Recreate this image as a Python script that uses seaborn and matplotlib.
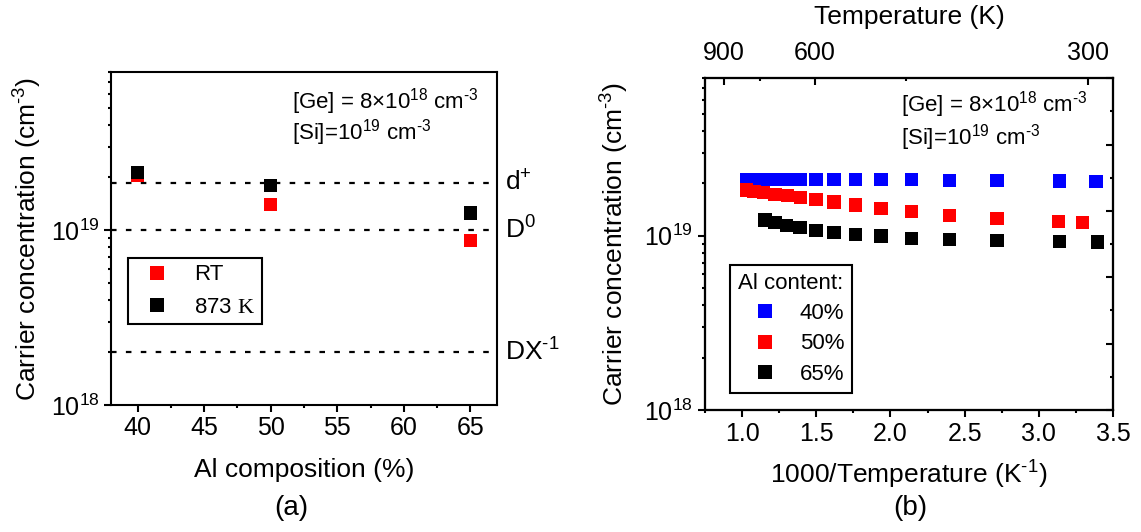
import numpy as np
import pandas as pd
import matplotlib
matplotlib.use("Agg")
import matplotlib.pyplot as plt
import seaborn as sns
from matplotlib.lines import Line2D
from matplotlib.ticker import LogLocator, NullFormatter, FixedLocator, MultipleLocator

# ---------------- data: panel (a) ----------------
al_comp = [40, 50, 65]
n_rt = [2.05e19, 1.40e19, 8.73e18]
n_873 = [2.13e19, 1.79e19, 1.25e19]
level_values = [1.85e19, 1.0e19, 2.0e18]
level_labels = ["d$^{+}$", "D$^{0}$", "DX$^{\u20101}$"]

# ---------------- data: panel (b) ----------------
inv_t_40 = [1.031, 1.080, 1.143, 1.222, 1.305, 1.392, 1.498, 1.619, 1.766,
            1.936, 2.143, 2.396, 2.718, 3.142, 3.385]
n_40 = [2.09e19, 2.09e19, 2.09e19, 2.09e19, 2.09e19, 2.09e19, 2.10e19, 2.10e19,
        2.09e19, 2.09e19, 2.09e19, 2.08e19, 2.07e19, 2.06e19, 2.05e19]
inv_t_50 = [1.031, 1.080, 1.143, 1.222, 1.305, 1.392, 1.498, 1.619, 1.766,
            1.936, 2.143, 2.396, 2.718, 3.130, 3.292]
n_50 = [1.83e19, 1.80e19, 1.77e19, 1.73e19, 1.70e19, 1.65e19, 1.62e19, 1.56e19,
        1.50e19, 1.44e19, 1.37e19, 1.31e19, 1.26e19, 1.20e19, 1.19e19]
inv_t_65 = [1.154, 1.222, 1.300, 1.390, 1.498, 1.619, 1.766, 1.936, 2.143,
            2.396, 2.718, 3.142, 3.393]
n_65 = [1.23e19, 1.19e19, 1.15e19, 1.11e19, 1.07e19, 1.046e19, 1.02e19, 0.996e19,
        0.966e19, 0.953e19, 0.936e19, 0.929e19, 0.92e19]
series_names = ["40%", "50%", "65%"]
series_colors = ["#0000ff", "#ff0000", "#000000"]
top_temps = [900, 600, 300]
top_minor_temps = [750, 450]

HY = "\u2010"  # short hyphen used in superscripts

# ---------------- style ----------------
sns.set_theme(style="ticks", rc={
    "axes.edgecolor": "black", "axes.linewidth": 1.5,
    "xtick.color": "black", "ytick.color": "black",
    "text.color": "black", "axes.labelcolor": "black",
})
plt.rcParams["font.family"] = ["Liberation Sans", "DejaVu Sans"]
plt.rcParams["mathtext.fontset"] = "custom"
plt.rcParams["mathtext.rm"] = "Liberation Sans"
plt.rcParams["mathtext.it"] = "Liberation Sans:italic"
plt.rcParams["mathtext.bf"] = "Liberation Sans:bold"
plt.rcParams["mathtext.sf"] = "Liberation Serif"

W, H = 1141, 532
fig = plt.figure(figsize=(W / 100, H / 100), dpi=100)

def px_axes(l, t, r, b):
    return fig.add_axes([l / W, 1 - b / H, (r - l) / W, (b - t) / H])

TICK = 18
LAB = 19
MS = 90
ylab = "Carrier concentration (cm$^{" + HY + "3}$)"
ge_txt = "[Ge] = 8$\\times$10$^{18}$ cm$^{" + HY + "3}$"
si_txt = "[Si]=10$^{19}$ cm$^{" + HY + "3}$"

# ================= panel (a) =================
axL = px_axes(111, 72, 497, 405)
df_a = pd.DataFrame({
    "Al": al_comp + al_comp,
    "n": n_rt + n_873,
    "cond": ["RT"] * len(al_comp) + ["873 K"] * len(al_comp),
})
for lv in level_values:
    axL.axhline(lv, color="black", lw=1.6, ls=(0, (2.5, 4.2)), zorder=1)
sns.scatterplot(data=df_a, x="Al", y="n", hue="cond",
                palette={"RT": "#ff0000", "873 K": "#000000"},
                marker="s", s=MS, linewidth=0, legend=False, ax=axL, zorder=3)
axL.set_yscale("log")
axL.set_ylim(1e18, 8e19)
axL.set_xlim(38, 67)
axL.set_xticks([40, 45, 50, 55, 60, 65])
axL.xaxis.set_minor_locator(MultipleLocator(2.5))
axL.yaxis.set_major_locator(LogLocator(base=10))
axL.yaxis.set_minor_locator(LogLocator(base=10, subs=np.arange(2, 10)))
axL.yaxis.set_minor_formatter(NullFormatter())
axL.tick_params(which="major", direction="out", length=5, width=1.5, labelsize=TICK, pad=3)
axL.tick_params(which="minor", direction="out", length=2.5, width=1.5)
axL.tick_params(top=False, right=False, which="both")
axL.set_xlabel("Al composition (%)", fontsize=LAB)
axL.set_ylabel(ylab, fontsize=LAB)
axL.xaxis.set_label_coords(0.5, -0.195)
axL.xaxis.label.set_verticalalignment("center")
axL.yaxis.set_label_coords(-0.215, 0.5)
axL.yaxis.label.set_verticalalignment("center")
for lv, lb in zip(level_values, level_labels):
    axL.text(1.022, lv, lb, transform=axL.get_yaxis_transform(), fontsize=LAB,
             ha="left", va="center")
axL.text(0.470, 0.911, ge_txt, transform=axL.transAxes, fontsize=16, ha="left", va="center")
axL.text(0.470, 0.817, si_txt, transform=axL.transAxes, fontsize=16, ha="left", va="center")
hL = [Line2D([], [], marker="s", ls="none", color=c, markersize=9.5, markeredgewidth=0)
      for c in ["#ff0000", "#000000"]]
legL = axL.legend(hL, ["RT", "873 $\\mathsf{K}$"], loc="upper left",
                  bbox_to_anchor=(0.045, 0.442), fontsize=16, frameon=True,
                  fancybox=False, edgecolor="black", framealpha=1,
                  handlelength=2.0, handletextpad=0.65, labelspacing=0.5,
                  borderpad=0.3, borderaxespad=0)
legL.get_frame().set_linewidth(1.5)

# ================= panel (b) =================
axR = px_axes(705, 78.3, 1113, 410)
df_b = pd.DataFrame({
    "x": inv_t_40 + inv_t_50 + inv_t_65,
    "n": n_40 + n_50 + n_65,
    "Al": [series_names[0]] * len(inv_t_40) + [series_names[1]] * len(inv_t_50)
          + [series_names[2]] * len(inv_t_65),
})
sns.scatterplot(data=df_b, x="x", y="n", hue="Al",
                palette=dict(zip(series_names, series_colors)),
                marker="s", s=MS, linewidth=0, legend=False, ax=axR, zorder=3)
axR.set_yscale("log")
axR.set_ylim(1e18, 8e19)
axR.set_xlim(0.75, 3.5)
axR.set_xticks([1.0, 1.5, 2.0, 2.5, 3.0, 3.5])
axR.xaxis.set_minor_locator(MultipleLocator(0.25))
axR.yaxis.set_major_locator(LogLocator(base=10))
axR.yaxis.set_minor_locator(LogLocator(base=10, subs=np.arange(2, 10)))
axR.yaxis.set_minor_formatter(NullFormatter())
axR.tick_params(which="major", direction="out", length=5, width=1.5, labelsize=TICK, pad=3.5)
axR.tick_params(which="minor", direction="out", length=2.5, width=1.5)
axR.set_xlabel("1000/Temperature (K$^{" + HY + "1}$)", fontsize=LAB)
axR.set_ylabel(ylab, fontsize=LAB)
axR.xaxis.set_label_coords(0.5, -0.196)
axR.xaxis.label.set_verticalalignment("center")
axR.yaxis.set_label_coords(-0.22, 0.5)
axR.yaxis.label.set_verticalalignment("center")
axR.text(0.480, 0.920, ge_txt, transform=axR.transAxes, fontsize=16, ha="left", va="center")
axR.text(0.480, 0.820, si_txt, transform=axR.transAxes, fontsize=16, ha="left", va="center")
hR = [Line2D([], [], marker="s", ls="none", color=c, markersize=9.5, markeredgewidth=0)
      for c in series_colors]
legR = axR.legend(hR, series_names, title="Al content:", title_fontsize=16,
                  loc="upper left", bbox_to_anchor=(0.061, 0.437), fontsize=16,
                  frameon=True, fancybox=False, edgecolor="black", framealpha=1,
                  handlelength=2.45, handletextpad=0.34, labelspacing=0.42,
                  borderpad=0.35, borderaxespad=0, alignment="left")
legR.get_frame().set_linewidth(1.5)

# top temperature axis
axT = axR.twiny()
axT.set_xlim(0.995, 3.486)
axT.set_xticks([1000 / t for t in top_temps])
axT.set_xticklabels([str(t) for t in top_temps])
axT.xaxis.set_minor_locator(FixedLocator([1000 / t for t in top_minor_temps]))
axT.tick_params(which="major", direction="in", length=5, width=1.5, labelsize=TICK, pad=9.5)
axT.tick_params(which="minor", direction="in", length=2.5, width=1.5)
axT.set_xlabel("Temperature (K)", fontsize=LAB)
axT.xaxis.set_label_coords(0.5, 1.185)
axT.xaxis.label.set_verticalalignment("center")

# right-side linear ticks
axRR = axR.twinx()
axRR.set_ylim(0, 10)
axRR.yaxis.set_major_locator(FixedLocator([0, 2, 4, 6, 8, 10]))
axRR.yaxis.set_minor_locator(FixedLocator([1, 3, 5, 7, 9]))
axRR.yaxis.set_major_formatter(NullFormatter())
axRR.tick_params(which="major", direction="in", length=5, width=1.5)
axRR.tick_params(which="minor", direction="in", length=2.5, width=1.5)

fig.text(291 / W, 1 - 508 / H, "(a)", fontsize=20, ha="center", va="center")
fig.text(910 / W, 1 - 508 / H, "(b)", fontsize=20, ha="center", va="center")

fig.savefig("out.png", dpi=100)
